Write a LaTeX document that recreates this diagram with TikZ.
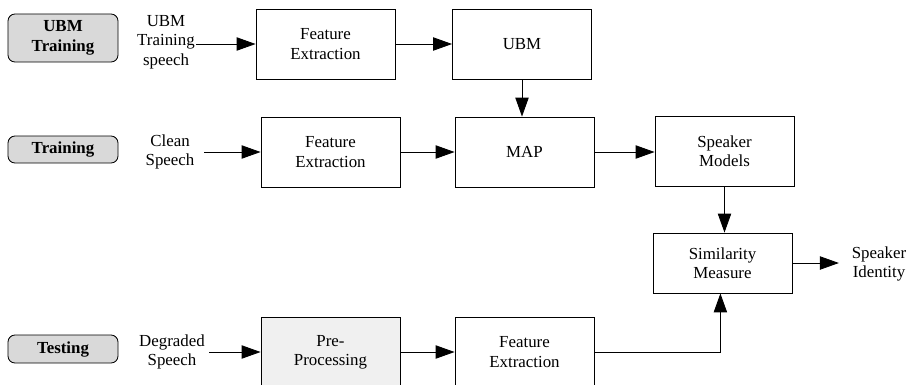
\documentclass[tikz,border=0pt]{standalone}
\usepackage{fontspec}
\setmainfont{Liberation Serif}
\usetikzlibrary{positioning,arrows.meta}

\begin{document}
\begin{tikzpicture}[
  x=0.025cm, y=-0.025cm,
  font=\fontsize{12}{13.8}\selectfont,
  box/.style={rectangle, draw, line width=0.6pt, minimum width=3.475cm, minimum height=1.75cm, align=center, inner sep=1pt},
  phase/.style={rectangle, draw, line width=0.6pt, rounded corners=5pt, fill=gray!30, minimum width=2.75cm, font=\fontsize{12}{13.8}\selectfont\bfseries, align=center, inner sep=1pt},
  txt/.style={align=center, inner sep=1pt},
  arrow/.style={-{Triangle[length=13.5pt,width=9.5pt]}, line width=0.6pt} % solid triangle tips
]
  \useasboundingbox (0,0) rectangle (916,384);

  % phase tags
  \node (ubmphase) [phase, minimum height=1.2cm] at (63,38) {UBM\\Training};
  \node (trainphase) [phase, minimum height=0.675cm] at (63,149.5) {Training};
  \node (testphase) [phase, minimum height=0.7cm] at (63,349) {Testing};

  % UBM training row
  \node (ubmspeech) [txt] at (166,42) {UBM\\Training\\speech};
  \node (fe1) [box] at (325.5,44) {Feature\\Extraction};
  \node (ubm) [box] at (522,44) {UBM};

  % training row
  \node (clean) [txt] at (170,152) {Clean\\Speech};
  \node (fe2) [box] at (330.5,152) {Feature\\Extraction};
  \node (map) [box] at (524.5,152) {MAP};
  \node (models) [box] at (724.5,151.5) {Speaker\\Models};
  \node (sim) [box, minimum height=1.5cm] at (722.5,263) {Similarity\\Measure};
  \node (identity) [txt] at (879,264) {Speaker\\Identity};

  % testing row
  \node (degraded) [txt] at (172,352) {Degraded\\Speech};
  \node (pre) [box, fill=gray!12] at (330.5,352) {Pre-\\Processing};
  \node (fe3) [box] at (524.5,352) {Feature\\Extraction};

  \draw [arrow] (ubmspeech.east |- fe1.west) -- (fe1.west);
  \draw [arrow] (fe1.east) -- (ubm.west);
  \draw [arrow] (ubm.south) -- (ubm.south |- map.north);

  \draw [arrow] ([xshift=6pt]clean.east |- fe2.west) -- (fe2.west);
  \draw [arrow] (fe2.east) -- (map.west);
  \draw [arrow] (map.east) -- (map.east -| models.west);
  \draw [arrow] (models.south) -- (models.south |- sim.north);
  \draw [arrow] (sim.east) -- ([xshift=-8pt]identity.west |- sim.east);

  \draw [arrow] ([xshift=2pt]degraded.east |- pre.west) -- (pre.west);
  \draw [arrow] (pre.east) -- (fe3.west);
  \draw [arrow] (fe3.east) -| ([xshift=-1.5pt]sim.south);
\end{tikzpicture}
\end{document}
